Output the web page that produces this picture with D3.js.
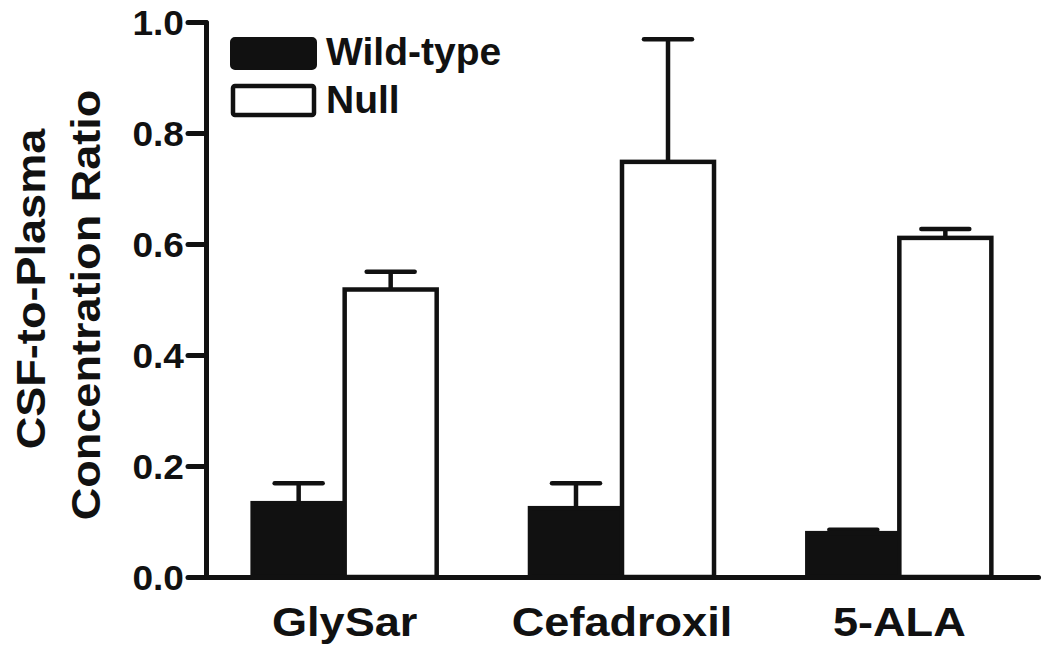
<!DOCTYPE html>
<html><head><meta charset="utf-8">
<script src="https://cdn.jsdelivr.net/npm/d3@7"></script>
<style>
body{margin:0;background:#fff;}
text{font-family:"Liberation Sans",Arial,sans-serif;font-weight:bold;fill:#111;}
</style></head>
<body><svg id="c" width="1050" height="659"></svg>
<script>
const categories = ["GlySar", "Cefadroxil", "5-ALA"];
const seriesNames = ["Wild-type", "Null"];
const wildType = [0.133, 0.124, 0.079];
const wildTypeErr = [0.036, 0.045, 0.006];
const nullVals = [0.518, 0.748, 0.611];
const nullErr = [0.032, 0.221, 0.016];
const yTicks = [0, 0.2, 0.4, 0.6, 0.8, 1.0];

const svg = d3.select("#c");
const ink = "#111";
const y = d3.scaleLinear().domain([0, 1]).range([577, 22]);
const x0 = d3.scaleBand().domain(categories).range([206, 1038]).padding(0);
const x1 = d3.scaleBand().domain(seriesNames).range([0, x0.bandwidth()]).paddingInner(0).paddingOuter(0.507);

const rows = categories.map((c, i) => ({cat: c, vals: [
  {s: "Wild-type", v: wildType[i], e: wildTypeErr[i]},
  {s: "Null", v: nullVals[i], e: nullErr[i]}]}));

const g = svg.append("g");
rows.forEach(r => {
  r.vals.forEach(d => {
    const cx = x0(r.cat) + x1(d.s) + x1.bandwidth() / 2;
    g.append("line").attr("x1", cx).attr("x2", cx).attr("y1", y(d.v)).attr("y2", y(d.v + d.e))
      .attr("stroke", ink).attr("stroke-width", 4.5);
    g.append("line").attr("x1", cx - 24).attr("x2", cx + 24).attr("y1", y(d.v + d.e)).attr("y2", y(d.v + d.e))
      .attr("stroke", ink).attr("stroke-width", 4.5).attr("stroke-linecap", "round");
  });
});
rows.forEach(r => {
  r.vals.forEach(d => {
    g.append("rect").attr("x", x0(r.cat) + x1(d.s)).attr("width", x1.bandwidth())
      .attr("y", y(d.v)).attr("height", y(0) - y(d.v))
      .attr("fill", d.s === "Null" ? "#fff" : ink).attr("stroke", ink).attr("stroke-width", 4.5);
  });
});

// y axis
const ya = svg.append("g").attr("transform", "translate(206,0)")
  .call(d3.axisLeft(y).tickValues(yTicks).tickFormat(d3.format(".1f")).tickSize(18).tickSizeOuter(0).tickPadding(4));
ya.select(".domain").attr("stroke", ink).attr("stroke-width", 5).attr("stroke-linecap", "round");
ya.selectAll(".tick line").attr("stroke", ink).attr("stroke-width", 5).attr("stroke-linecap", "round");
ya.selectAll(".tick text").style("font-size", "35px").style("font-family", "Liberation Sans, Arial").style("font-weight", "bold").attr("fill", ink).attr("dy", "0.36em")
  .attr("x", -22 / 1.06).attr("transform", "scale(1.06,1)");

// x axis
const xa = svg.append("g").attr("transform", "translate(0,577)")
  .call(d3.axisBottom(x0).tickSize(0).tickSizeOuter(0).tickPadding(30));
xa.select(".domain").attr("stroke", ink).attr("stroke-width", 5).attr("stroke-linecap", "round");
xa.selectAll(".tick text").style("font-size", "41px").style("font-family", "Liberation Sans, Arial").style("font-weight", "bold").attr("fill", ink)
  .attr("transform", "scale(1.1,1)");

// y title
const yt = [["CSF-to-Plasma", 45, 289], ["Concentration Ratio", 100, 305]];
yt.forEach(t => {
  svg.append("text").attr("transform", `translate(${t[1]},${t[2]}) rotate(-90) scale(1.1,1)`)
    .attr("text-anchor", "middle").style("font-size", "41px").text(t[0]);
});

// legend
const leg = svg.append("g");
leg.append("rect").attr("x", 232).attr("y", 39).attr("width", 83).attr("height", 29).attr("rx", 3)
  .attr("fill", ink).attr("stroke", ink).attr("stroke-width", 4);
leg.append("rect").attr("x", 233).attr("y", 86).attr("width", 81).attr("height", 29).attr("rx", 2)
  .attr("fill", "#fff").attr("stroke", ink).attr("stroke-width", 4.5);
leg.append("text").attr("x", 326).attr("y", 65).style("font-size", "39px").text(seriesNames[0]);
leg.append("text").attr("x", 326).attr("y", 113).style("font-size", "39px").text(seriesNames[1]);
</script></body></html>
